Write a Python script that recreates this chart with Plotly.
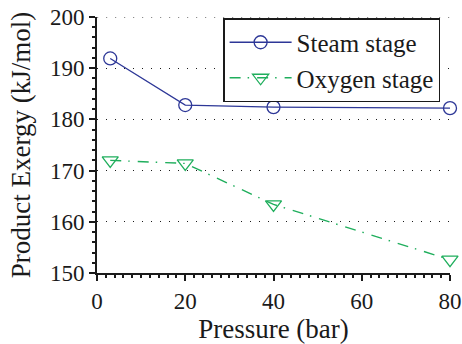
import plotly.graph_objects as go

# Pressure levels (bar) and product exergy (kJ/mol) of each stage
pressure = [3, 20, 40, 80]
steam_stage = [191.9, 182.8, 182.4, 182.2]
oxygen_stage = [172.0, 171.4, 163.4, 152.6]

x_ticks = [0, 20, 40, 60, 80]
y_ticks = [150, 160, 170, 180, 190, 200]

SERIF = "Liberation Serif"
INK = "#1a1a1a"
BLUE = "#2d3797"
GREEN = "#1fae5c"
GRID_DASH = "1.2px,7.8px"

fig = go.Figure()

fig.add_trace(go.Scatter(
    x=pressure, y=steam_stage, name="Steam stage",
    mode="lines+markers", cliponaxis=False,
    line=dict(color=BLUE, width=1.3),
    marker=dict(symbol="circle-open", size=13, color=BLUE, line=dict(width=1.3)),
))

fig.add_trace(go.Scatter(
    x=pressure, y=oxygen_stage, name="Oxygen stage",
    mode="lines+markers", cliponaxis=False,
    line=dict(color=GREEN, width=1.4, dash="11px,7px,1.5px,8px"),
    marker=dict(symbol="triangle-down-open", size=14, color=GREEN, line=dict(width=1.3)),
))

axis_common = dict(
    showline=True, linecolor=INK, linewidth=2,
    ticks="outside", ticklen=6, tickwidth=2, tickcolor=INK,
    tickfont=dict(family=SERIF, size=23, color=INK),
    zeroline=False, mirror=False, automargin=False,
)

fig.update_xaxes(
    range=[0, 80], tickvals=x_ticks, showgrid=False,
    minor=dict(dtick=2, ticks="outside", ticklen=3, tickwidth=1.5, tickcolor=INK, showgrid=False),
    title=dict(text="Pressure (bar)", font=dict(family=SERIF, size=27, color=INK), standoff=0),
    **axis_common,
)

fig.update_yaxes(
    range=[y_ticks[0], y_ticks[-1]], tickvals=y_ticks,
    showgrid=True, gridcolor=INK, gridwidth=1.2, griddash=GRID_DASH,
    minor=dict(dtick=2, ticks="outside", ticklen=3, tickwidth=1.5, tickcolor=INK, showgrid=False),
    title=dict(text="Product Exergy (kJ/mol)", font=dict(family=SERIF, size=27, color=INK), standoff=11),
    **axis_common,
)

# dotted gridline along the top of the value range
fig.add_shape(
    type="line", xref="paper", yref="y", x0=0, x1=1, y0=y_ticks[-1], y1=y_ticks[-1],
    line=dict(color=INK, width=1.2, dash=GRID_DASH), layer="below",
)

fig.update_layout(
    width=462, height=344,
    margin=dict(l=97, r=12, t=17, b=71),
    paper_bgcolor="white", plot_bgcolor="white",
    font=dict(family=SERIF, size=23, color=INK),
    showlegend=True,
    legend=dict(
        x=0.972, y=0.996, xanchor="right", yanchor="top",
        bgcolor="white", bordercolor=INK, borderwidth=1.5,
        font=dict(family=SERIF, size=25, color=INK),
        itemwidth=62, tracegroupgap=0,
    ),
)

fig.write_html("out.html")
